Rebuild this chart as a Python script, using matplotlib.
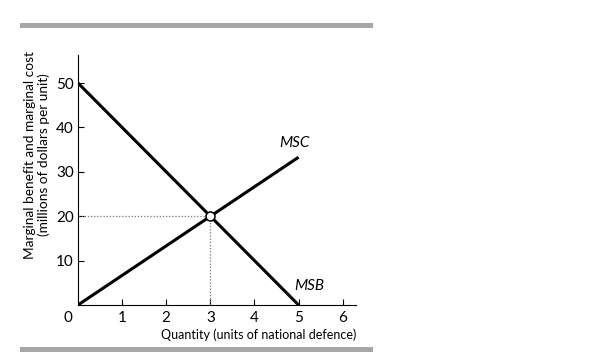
import matplotlib.pyplot as plt
from matplotlib.lines import Line2D

# data
msb_q = [0, 5]
msb_v = [50, 0]
msc_q = [0, 5]
msc_v = [0, 33.3]
eq_q = 3
eq_v = 20
x_ticks = [1, 2, 3, 4, 5, 6]
y_ticks = [10, 20, 30, 40, 50]

plt.rcParams['font.family'] = ['Lato', 'DejaVu Sans']

fig = plt.figure(figsize=(6.15, 3.53), dpi=100)
ax = fig.add_axes([0.1268, 0.136, 0.452, 0.708])

ax.plot(msb_q, msb_v, color="black", lw=2.2, solid_capstyle="butt")
ax.plot(msc_q, msc_v, color="black", lw=2.2, solid_capstyle="butt")

# dotted guides to the equilibrium
ax.plot([0, eq_q], [eq_v, eq_v], color="#777777", lw=0.9, ls=(0, (1, 1.5)))
ax.plot([eq_q, eq_q], [0, eq_v], color="#777777", lw=0.9, ls=(0, (1, 1.5)))
ax.plot([eq_q], [eq_v], marker="o", ms=6.5, mfc="white", mec="black", mew=1.1, zorder=5)

ax.text(4.9, 35.0, "MSC", style="italic", fontsize=11, ha="center", va="bottom")
ax.text(5.25, 2.6, "MSB", style="italic", fontsize=11, ha="center", va="bottom")

ax.set_xlim(0, 6.3)
ax.set_ylim(0, 56.3)
ax.set_xticks(x_ticks)
ax.set_yticks(y_ticks)
ax.tick_params(direction="in", length=4, width=0.8, labelsize=11, pad=4)
ax.tick_params(axis="y", pad=3)
ax.text(-0.22, -1.3, "0", fontsize=11, ha="center", va="top")

for s in ["top", "right"]:
    ax.spines[s].set_visible(False)
for s in ["left", "bottom"]:
    ax.spines[s].set_linewidth(0.8)

ax.set_xlabel("Quantity (units of national defence)", fontsize=9, loc="right", labelpad=3)
ax.set_ylabel("Marginal benefit and marginal cost\n(millions of dollars per unit)",
              fontsize=9.8, linespacing=1.15)
ax.yaxis.set_label_coords(-0.10, 0.6)

# grey rules above and below
fig.add_artist(Line2D([22 / 615, 370 / 615], [1 - 24.5 / 353, 1 - 24.5 / 353],
                      color="#a6a6a6", lw=3.6, transform=fig.transFigure))
fig.add_artist(Line2D([22 / 615, 370 / 615], [1 - 348.5 / 353, 1 - 348.5 / 353],
                      color="#a6a6a6", lw=3.6, transform=fig.transFigure))

fig.savefig("out.png", dpi=100)
